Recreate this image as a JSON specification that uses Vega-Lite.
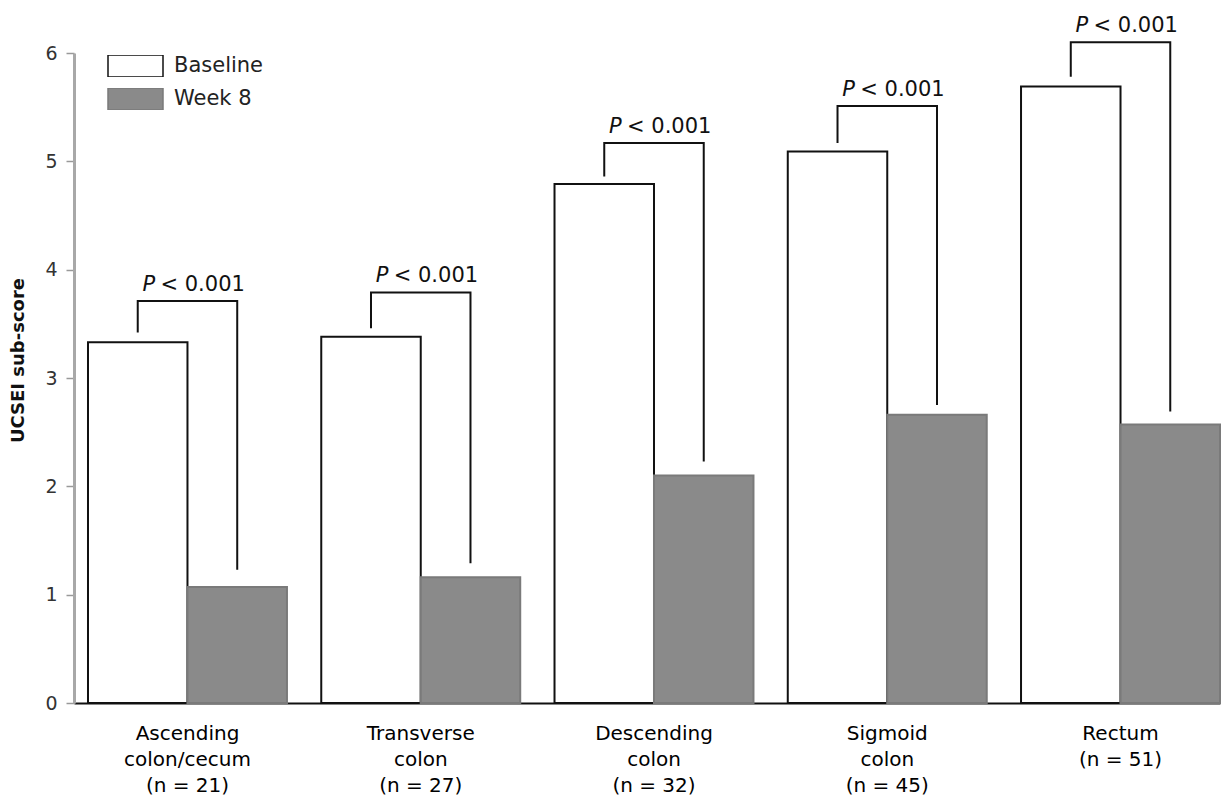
{
  "$schema": "https://vega.github.io/schema/vega-lite/v6.json",
  "autosize": "none",
  "width": 1146,
  "height": 650,
  "padding": {"left": 74, "top": 53, "right": 12, "bottom": 98},
  "background": "white",
  "config": {
    "view": {"stroke": null},
    "font": "DejaVu Sans"
  },
  "datasets": {
    "scores": [
      {"segment": "Ascending|colon/cecum|(n = 21)", "visit": "Baseline", "score": 3.33},
      {"segment": "Ascending|colon/cecum|(n = 21)", "visit": "Week 8", "score": 1.07},
      {"segment": "Transverse|colon|(n = 27)", "visit": "Baseline", "score": 3.38},
      {"segment": "Transverse|colon|(n = 27)", "visit": "Week 8", "score": 1.16},
      {"segment": "Descending|colon|(n = 32)", "visit": "Baseline", "score": 4.79},
      {"segment": "Descending|colon|(n = 32)", "visit": "Week 8", "score": 2.10},
      {"segment": "Sigmoid|colon|(n = 45)", "visit": "Baseline", "score": 5.09},
      {"segment": "Sigmoid|colon|(n = 45)", "visit": "Week 8", "score": 2.66},
      {"segment": "Rectum|(n = 51)", "visit": "Baseline", "score": 5.69},
      {"segment": "Rectum|(n = 51)", "visit": "Week 8", "score": 2.57}
    ],
    "brackets": [
      {"segment": "Ascending|colon/cecum|(n = 21)", "visit": "Baseline", "v": 3.42, "k": 1},
      {"segment": "Ascending|colon/cecum|(n = 21)", "visit": "Baseline", "v": 3.71, "k": 2},
      {"segment": "Ascending|colon/cecum|(n = 21)", "visit": "Week 8", "v": 3.71, "k": 3},
      {"segment": "Ascending|colon/cecum|(n = 21)", "visit": "Week 8", "v": 1.23, "k": 4},
      {"segment": "Transverse|colon|(n = 27)", "visit": "Baseline", "v": 3.46, "k": 1},
      {"segment": "Transverse|colon|(n = 27)", "visit": "Baseline", "v": 3.79, "k": 2},
      {"segment": "Transverse|colon|(n = 27)", "visit": "Week 8", "v": 3.79, "k": 3},
      {"segment": "Transverse|colon|(n = 27)", "visit": "Week 8", "v": 1.29, "k": 4},
      {"segment": "Descending|colon|(n = 32)", "visit": "Baseline", "v": 4.86, "k": 1},
      {"segment": "Descending|colon|(n = 32)", "visit": "Baseline", "v": 5.17, "k": 2},
      {"segment": "Descending|colon|(n = 32)", "visit": "Week 8", "v": 5.17, "k": 3},
      {"segment": "Descending|colon|(n = 32)", "visit": "Week 8", "v": 2.23, "k": 4},
      {"segment": "Sigmoid|colon|(n = 45)", "visit": "Baseline", "v": 5.17, "k": 1},
      {"segment": "Sigmoid|colon|(n = 45)", "visit": "Baseline", "v": 5.51, "k": 2},
      {"segment": "Sigmoid|colon|(n = 45)", "visit": "Week 8", "v": 5.51, "k": 3},
      {"segment": "Sigmoid|colon|(n = 45)", "visit": "Week 8", "v": 2.75, "k": 4},
      {"segment": "Rectum|(n = 51)", "visit": "Baseline", "v": 5.78, "k": 1},
      {"segment": "Rectum|(n = 51)", "visit": "Baseline", "v": 6.10, "k": 2},
      {"segment": "Rectum|(n = 51)", "visit": "Week 8", "v": 6.10, "k": 3},
      {"segment": "Rectum|(n = 51)", "visit": "Week 8", "v": 2.69, "k": 4}
    ],
    "tests": [
      {"segment": "Ascending|colon/cecum|(n = 21)", "top": 3.71, "p": "< 0.001"},
      {"segment": "Transverse|colon|(n = 27)", "top": 3.79, "p": "< 0.001"},
      {"segment": "Descending|colon|(n = 32)", "top": 5.17, "p": "< 0.001"},
      {"segment": "Sigmoid|colon|(n = 45)", "top": 5.51, "p": "< 0.001"},
      {"segment": "Rectum|(n = 51)", "top": 6.10, "p": "< 0.001"}
    ]
  },
  "encoding": {
    "x": {
      "field": "segment",
      "type": "nominal",
      "sort": null,
      "scale": {"paddingInner": 0.147, "paddingOuter": 0.03, "align": 1},
      "axis": {
        "title": null,
        "labelAngle": 0,
        "labelExpr": "split(datum.label, '|')",
        "labelFont": "DejaVu Sans",
        "labelFontSize": 20,
        "labelColor": "#000",
        "labelLineHeight": 26,
        "labelBaseline": "top",
        "labelPadding": 20,
        "ticks": false,
        "domainColor": "#111",
        "domainWidth": 2
      }
    }
  },
  "layer": [
    {
      "data": {"name": "scores"},
      "mark": {"type": "bar", "strokeWidth": 2},
      "encoding": {
        "xOffset": {"field": "visit", "type": "nominal", "scale": {"paddingInner": 0, "paddingOuter": 0}},
        "y": {
          "field": "score",
          "type": "quantitative",
          "scale": {"domain": [0, 6], "nice": false},
          "axis": {
            "title": "UCSEI sub-score",
            "titleFont": "DejaVu Sans",
            "titleFontWeight": "bold",
            "titleFontSize": 18,
            "titleColor": "#111",
            "titleX": -56,
            "titleY": 307,
            "titleAlign": "center",
            "titleBaseline": "middle",
            "titleAngle": -90,
            "values": [0, 1, 2, 3, 4, 5, 6],
            "format": "d",
            "grid": false,
            "labelFont": "DejaVu Sans",
            "labelFontSize": 19,
            "labelColor": "#333",
            "labelPadding": 9,
            "tickSize": 8,
            "tickColor": "#999",
            "tickWidth": 1.5,
            "domainColor": "#a8a8a8",
            "domainWidth": 3
          }
        },
        "fill": {
          "field": "visit",
          "type": "nominal",
          "scale": {"domain": ["Baseline", "Week 8"], "range": ["white", "#8a8a8a"]},
          "legend": {
            "title": null,
            "orient": "none",
            "legendX": 33,
            "legendY": 2,
            "padding": 0,
            "symbolType": "M-1,-0.4H1V0.4H-1Z",
            "symbolSize": 3025,
            "symbolStrokeWidth": 1.5,
            "clipHeight": 22,
            "rowPadding": 11,
            "labelOffset": 10,
            "labelFont": "DejaVu Sans",
            "labelFontSize": 21,
            "labelColor": "#222"
          }
        },
        "stroke": {
          "field": "visit",
          "type": "nominal",
          "scale": {"domain": ["Baseline", "Week 8"], "range": ["#111", "#7a7a7a"]},
          "legend": null
        }
      }
    },
    {
      "data": {"name": "brackets"},
      "mark": {"type": "line", "color": "#111", "strokeWidth": 2},
      "encoding": {
        "xOffset": {"field": "visit", "type": "nominal", "scale": {"paddingInner": 0, "paddingOuter": 0}},
        "y": {"field": "v", "type": "quantitative"},
        "detail": {"field": "segment"},
        "order": {"field": "k", "type": "quantitative"}
      }
    },
    {
      "data": {"name": "tests"},
      "mark": {"type": "text", "text": "P", "fontStyle": "italic", "font": "DejaVu Sans", "fontSize": 21, "align": "left", "baseline": "alphabetic", "dx": -45, "dy": -10, "color": "#111"},
      "encoding": {
        "y": {"field": "top", "type": "quantitative"}
      }
    },
    {
      "data": {"name": "tests"},
      "mark": {"type": "text", "font": "DejaVu Sans", "fontSize": 21, "align": "left", "baseline": "alphabetic", "dx": -27, "dy": -10, "color": "#111"},
      "encoding": {
        "y": {"field": "top", "type": "quantitative"},
        "text": {"field": "p"}
      }
    }
  ]
}
